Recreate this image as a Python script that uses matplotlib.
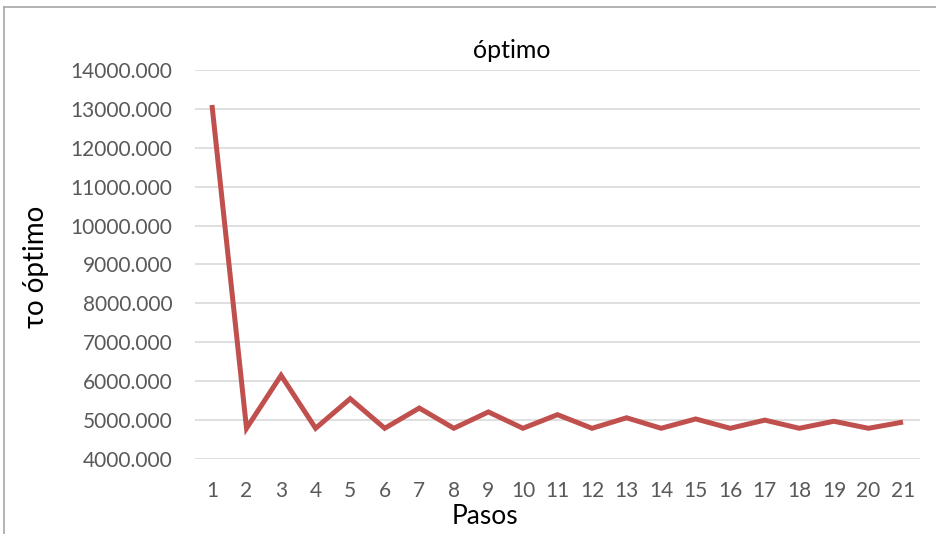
import matplotlib.pyplot as plt
from matplotlib.lines import Line2D

# data
pasos = list(range(1, 22))
tau_optimo = [13100, 4790, 6150, 4790, 5550, 4790, 5310, 4790, 5210, 4790,
              5140, 4790, 5060, 4790, 5030, 4790, 5000, 4790, 4970, 4790, 4950]
y_ticks = list(range(4000, 14001, 1000))

plt.rcParams['font.family'] = ['Lato', 'DejaVu Sans']

fig = plt.figure(figsize=(9.36, 5.34), dpi=100)
ax = fig.add_axes([0.208, 0.1404, 0.7752, 0.7286])

ax.plot(pasos, tau_optimo, color='#C0504D', linewidth=3.6,
        solid_joinstyle='miter', solid_capstyle='butt', zorder=3)

ax.set_xlim(0.5, 21.5)
ax.set_ylim(4000, 14000)
ax.set_xticks(pasos)
ax.set_yticks(y_ticks)
ax.set_yticklabels([f"{v}.000" for v in y_ticks])
ax.yaxis.grid(True, color='#D9D9D9', linewidth=1.2)
ax.set_axisbelow(True)
for s in ax.spines.values():
    s.set_visible(False)
ax.tick_params(axis='both', length=0, colors='#595959', labelsize=15)
ax.tick_params(axis='y', pad=16)
ax.tick_params(axis='x', pad=16)

fig.text(512 / 936, 1 - 50 / 534, "óptimo", ha='center', va='center',
         fontsize=18, color='black')
fig.text(485 / 936, 1 - 516 / 534, "Pasos", ha='center', va='center',
         fontsize=19, color='black')
fig.text(36 / 936, 1 - 267 / 534, "τo óptimo", ha='center', va='center',
         rotation=90, fontsize=20, color='black')

# chart frame (cut off at right and bottom)
fig.add_artist(Line2D([4 / 936, 4 / 936], [0, 1 - 7 / 534],
                      transform=fig.transFigure, color='#A6A6A6', linewidth=1.2))
fig.add_artist(Line2D([4 / 936, 1], [1 - 7 / 534, 1 - 7 / 534],
                      transform=fig.transFigure, color='#A6A6A6', linewidth=1.2))

fig.savefig("out.png", dpi=100)
